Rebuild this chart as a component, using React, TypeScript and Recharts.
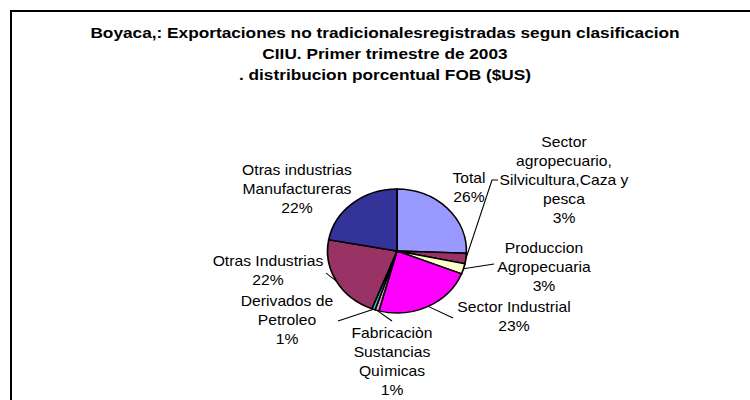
import React from "react";
import { PieChart, Pie, Cell } from "recharts";

// ---- data ----
const categories = [
  "Total",
  "Sector\nagropecuario,\nSilvicultura,Caza y\npesca",
  "Produccion\nAgropecuaria",
  "Sector Industrial",
  "Fabricaciòn\nSustancias\nQuìmicas",
  "Derivados de\nPetroleo",
  "Otras Industrias",
  "Otras industrias\nManufactureras",
];
const values = [25.6, 2.7, 2.7, 23.2, 0.9, 0.8, 22.0, 22.1];
const colors = ["#9999FF", "#993366", "#FFFFCC", "#FF00FF", "#FF99CC", "#33CCCC", "#993366", "#333399"];
const titleLines = [
  "Boyaca,: Exportaciones no tradicionalesregistradas segun clasificacion",
  "CIIU. Primer trimestre de 2003",
  ". distribucion porcentual FOB ($US)",
];

// ---- layout (page coordinates) ----
const S = 1.12; // horizontal stretch of the original picture
const W = 750;
const H = 400;
const px = (x: number) => x / S;
const LH = 19;
const PIE_CX = 397;
const PIE_CY = 251;
const PIE_R = 62;

type Layout = { x: number; y: number; line: number[][] | null };
const LABEL_LAYOUT: Layout[] = [
  { x: 469, y: 178, line: null },
  { x: 564, y: 142, line: [[492, 180], [498, 180]] },
  { x: 544, y: 248, line: [[494, 264]] },
  { x: 514, y: 307, line: [[453, 318]] },
  { x: 392, y: 333, line: [[392, 321]] },
  { x: 287, y: 301, line: [[338, 321]] },
  { x: 268, y: 261, line: [[326, 273]] },
  { x: 297, y: 170, line: null },
];

const data = categories.map((name, i) => ({ name, value: values[i] }));

const FONT = "Arial, 'Liberation Sans', sans-serif";

const renderLabel = (props: any) => {
  const { cx, cy, midAngle, outerRadius, index, percent } = props;
  const L = LABEL_LAYOUT[index];
  const RAD = Math.PI / 180;
  const ex = cx + outerRadius * Math.cos(-midAngle * RAD);
  const ey = cy + outerRadius * Math.sin(-midAngle * RAD);
  const lines = [...categories[index].split("\n"), `${Math.round(percent * 100)}%`];
  const pts = L.line
    ? [[ex, ey], ...L.line.map(([x, y]) => [px(x), y])].map((p) => p.join(",")).join(" ")
    : "";
  return (
    <g key={`lbl-${index}`}>
      {L.line && <polyline points={pts} fill="none" stroke="#000" strokeWidth={1} />}
      <text textAnchor="middle" fontFamily={FONT} fontSize={14} fill="#000">
        {lines.map((t, i) => (
          <tspan key={i} x={px(L.x)} y={L.y + i * LH + 5}>
            {t}
          </tspan>
        ))}
      </text>
    </g>
  );
};

export default function App() {
  return (
    <div style={{ position: "relative", width: W, height: H, overflow: "hidden", background: "#fff" }}>
      <style>{"body{margin:0;overflow:hidden;background:#fff}"}</style>
      <div
        style={{
          position: "absolute",
          left: 0,
          top: 0,
          width: W / S,
          height: H,
          transform: `scaleX(${S})`,
          transformOrigin: "0 0",
        }}
      >
        <div
          style={{
            position: "absolute",
            left: px(385) - 320,
            width: 640,
            top: 22,
            textAlign: "center",
            fontFamily: FONT,
            fontWeight: "bold",
            fontSize: 15.4,
            lineHeight: "21px",
            color: "#000",
            whiteSpace: "nowrap",
          }}
        >
          {titleLines.map((t, i) => (
            <div key={i}>{t}</div>
          ))}
        </div>
        <div style={{ position: "absolute", left: 0, top: 0 }}>
          <PieChart width={W / S} height={H} margin={{ top: 0, right: 0, bottom: 0, left: 0 }}>
            <Pie
              data={data}
              dataKey="value"
              nameKey="name"
              cx={px(PIE_CX)}
              cy={PIE_CY}
              outerRadius={PIE_R}
              startAngle={90}
              endAngle={-270}
              stroke="#000"
              strokeWidth={1.5}
              isAnimationActive={false}
              label={renderLabel}
              labelLine={false}
            >
              {data.map((d, i) => (
                <Cell key={i} fill={colors[i]} stroke="#000" strokeWidth={1.5} />
              ))}
            </Pie>
          </PieChart>
        </div>
      </div>
      <div
        style={{
          position: "absolute",
          left: 10,
          top: 10,
          width: 900,
          height: 600,
          border: "2px solid #000",
          pointerEvents: "none",
        }}
      />
    </div>
  );
}
